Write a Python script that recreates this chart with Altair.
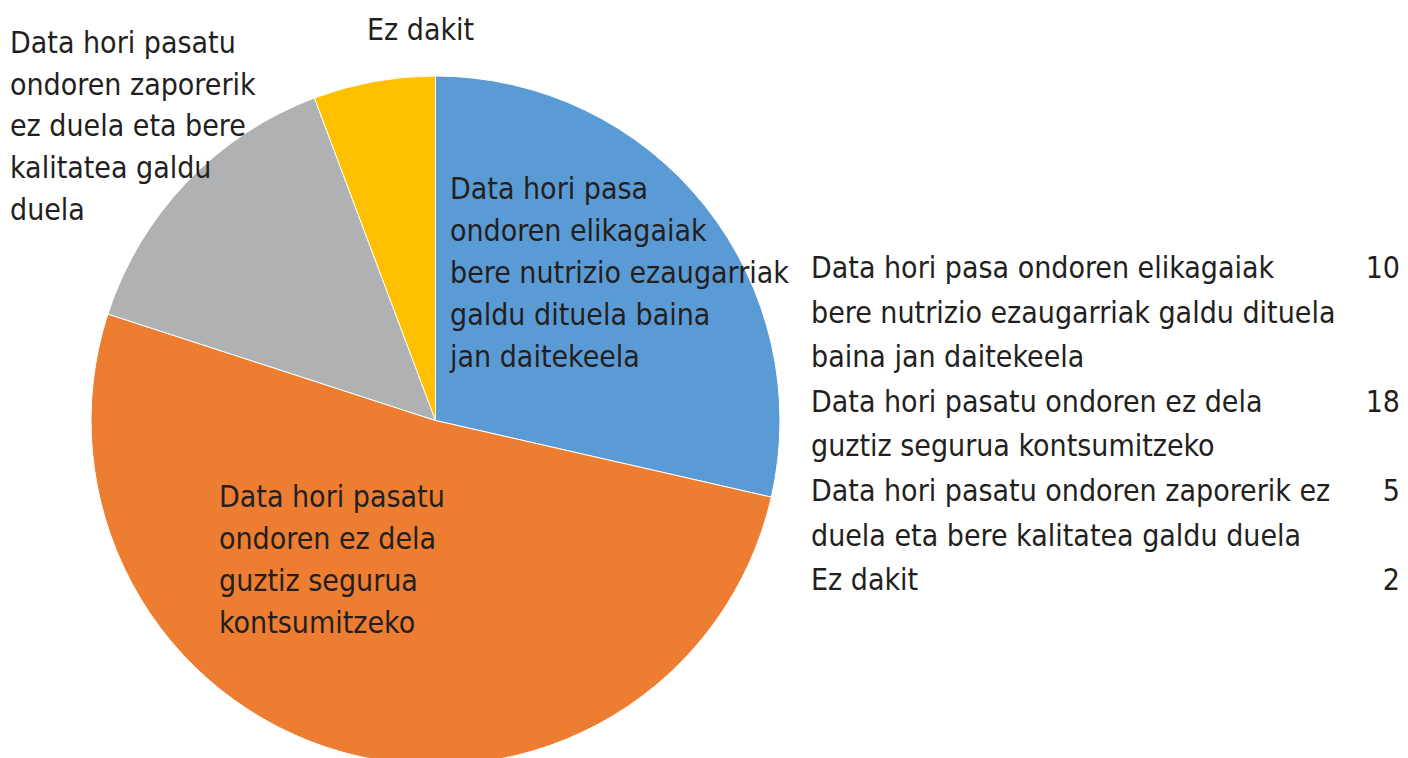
import altair as alt
import pandas as pd

# ---- data ----
categories = [
    "Data hori pasa ondoren elikagaiak bere nutrizio ezaugarriak galdu dituela baina jan daitekeela",
    "Data hori pasatu ondoren ez dela guztiz segurua kontsumitzeko",
    "Data hori pasatu ondoren zaporerik ez duela eta bere kalitatea galdu duela",
    "Ez dakit",
]
values = [10, 18, 5, 2]
colors = ["#5B9BD5", "#ED7D31", "#B0B1B3", "#FFC000"]

# labels drawn on / next to the slices (line breaks as in the picture)
slice_labels = [
    "Data hori pasa\nondoren elikagaiak\nbere nutrizio ezaugarriak\ngaldu dituela baina\njan daitekeela",
    "Data hori pasatu\nondoren ez dela\nguztiz segurua\nkontsumitzeko",
    "Data hori pasatu\nondoren zaporerik\nez duela eta bere\nkalitatea galdu\nduela",
    "Ez dakit",
]

# table on the right (wrapped lines per category)
table_lines = [
    ["Data hori pasa ondoren elikagaiak", "bere nutrizio ezaugarriak galdu dituela", "baina jan daitekeela"],
    ["Data hori pasatu ondoren ez dela", "guztiz segurua kontsumitzeko"],
    ["Data hori pasatu ondoren zaporerik ez", "duela eta bere kalitatea galdu duela"],
    ["Ez dakit"],
]

FONT = "'Liberation Sans Narrow', 'Arial Narrow', 'DejaVu Sans Condensed', sans-serif"
TXT = "#231F20"
FS = 30

pie_df = pd.DataFrame({"category": categories, "value": values, "idx": range(len(values))})

pie = alt.Chart(pie_df).mark_arc(radius=344.5, stroke="#ffffff", strokeWidth=1).encode(
    theta=alt.Theta("value:Q", stack=True),
    color=alt.Color("category:N", scale=alt.Scale(domain=categories, range=colors), legend=None),
    order=alt.Order("idx:Q"),
    x=alt.value(427.5),
    y=alt.value(412.5),
)

# slice label placement (pixel layout, not data)
label_pos = [(442, 167, 42), (211, 475, 42), (2, 21, 41.7), (359, 8, 42)]
label_layers = []
for lab, (lx, ly, lh) in zip(slice_labels, label_pos):
    d = pd.DataFrame({"label": [lab]})
    label_layers.append(
        alt.Chart(d).mark_text(
            align="left", baseline="top", font=FONT, fontSize=FS, color=TXT,
            lineBreak="\n", lineHeight=lh,
        ).encode(text="label:N", x=alt.value(lx), y=alt.value(ly))
    )

# right-hand table
rows = []
line_no = 0
for cat_i, lines in enumerate(table_lines):
    for j, t in enumerate(lines):
        rows.append({"line": line_no, "text": t,
                     "value": str(values[cat_i]) if j == 0 else ""})
        line_no += 1
tab_df = pd.DataFrame(rows)
yscale = alt.Scale(domain=[0, 7], range=[270, 270 + 7 * 44.6])

tab_text = alt.Chart(tab_df).mark_text(
    align="left", baseline="alphabetic", font=FONT, fontSize=FS, color=TXT
).encode(
    text="text:N",
    x=alt.value(803),
    y=alt.Y("line:Q", scale=yscale, axis=None),
)
tab_vals = alt.Chart(tab_df).mark_text(
    align="right", baseline="alphabetic", font=FONT, fontSize=FS, color=TXT
).encode(
    text="value:N",
    x=alt.value(1392),
    y=alt.Y("line:Q", scale=yscale, axis=None),
)

chart = alt.layer(pie, *label_layers, tab_text, tab_vals).properties(
    width=1392, height=750, padding=0,
    autosize=alt.AutoSizeParams(type="none"),
).configure_view(stroke=None)

chart.save("out.html", embed_options={"renderer": "svg", "actions": False})
